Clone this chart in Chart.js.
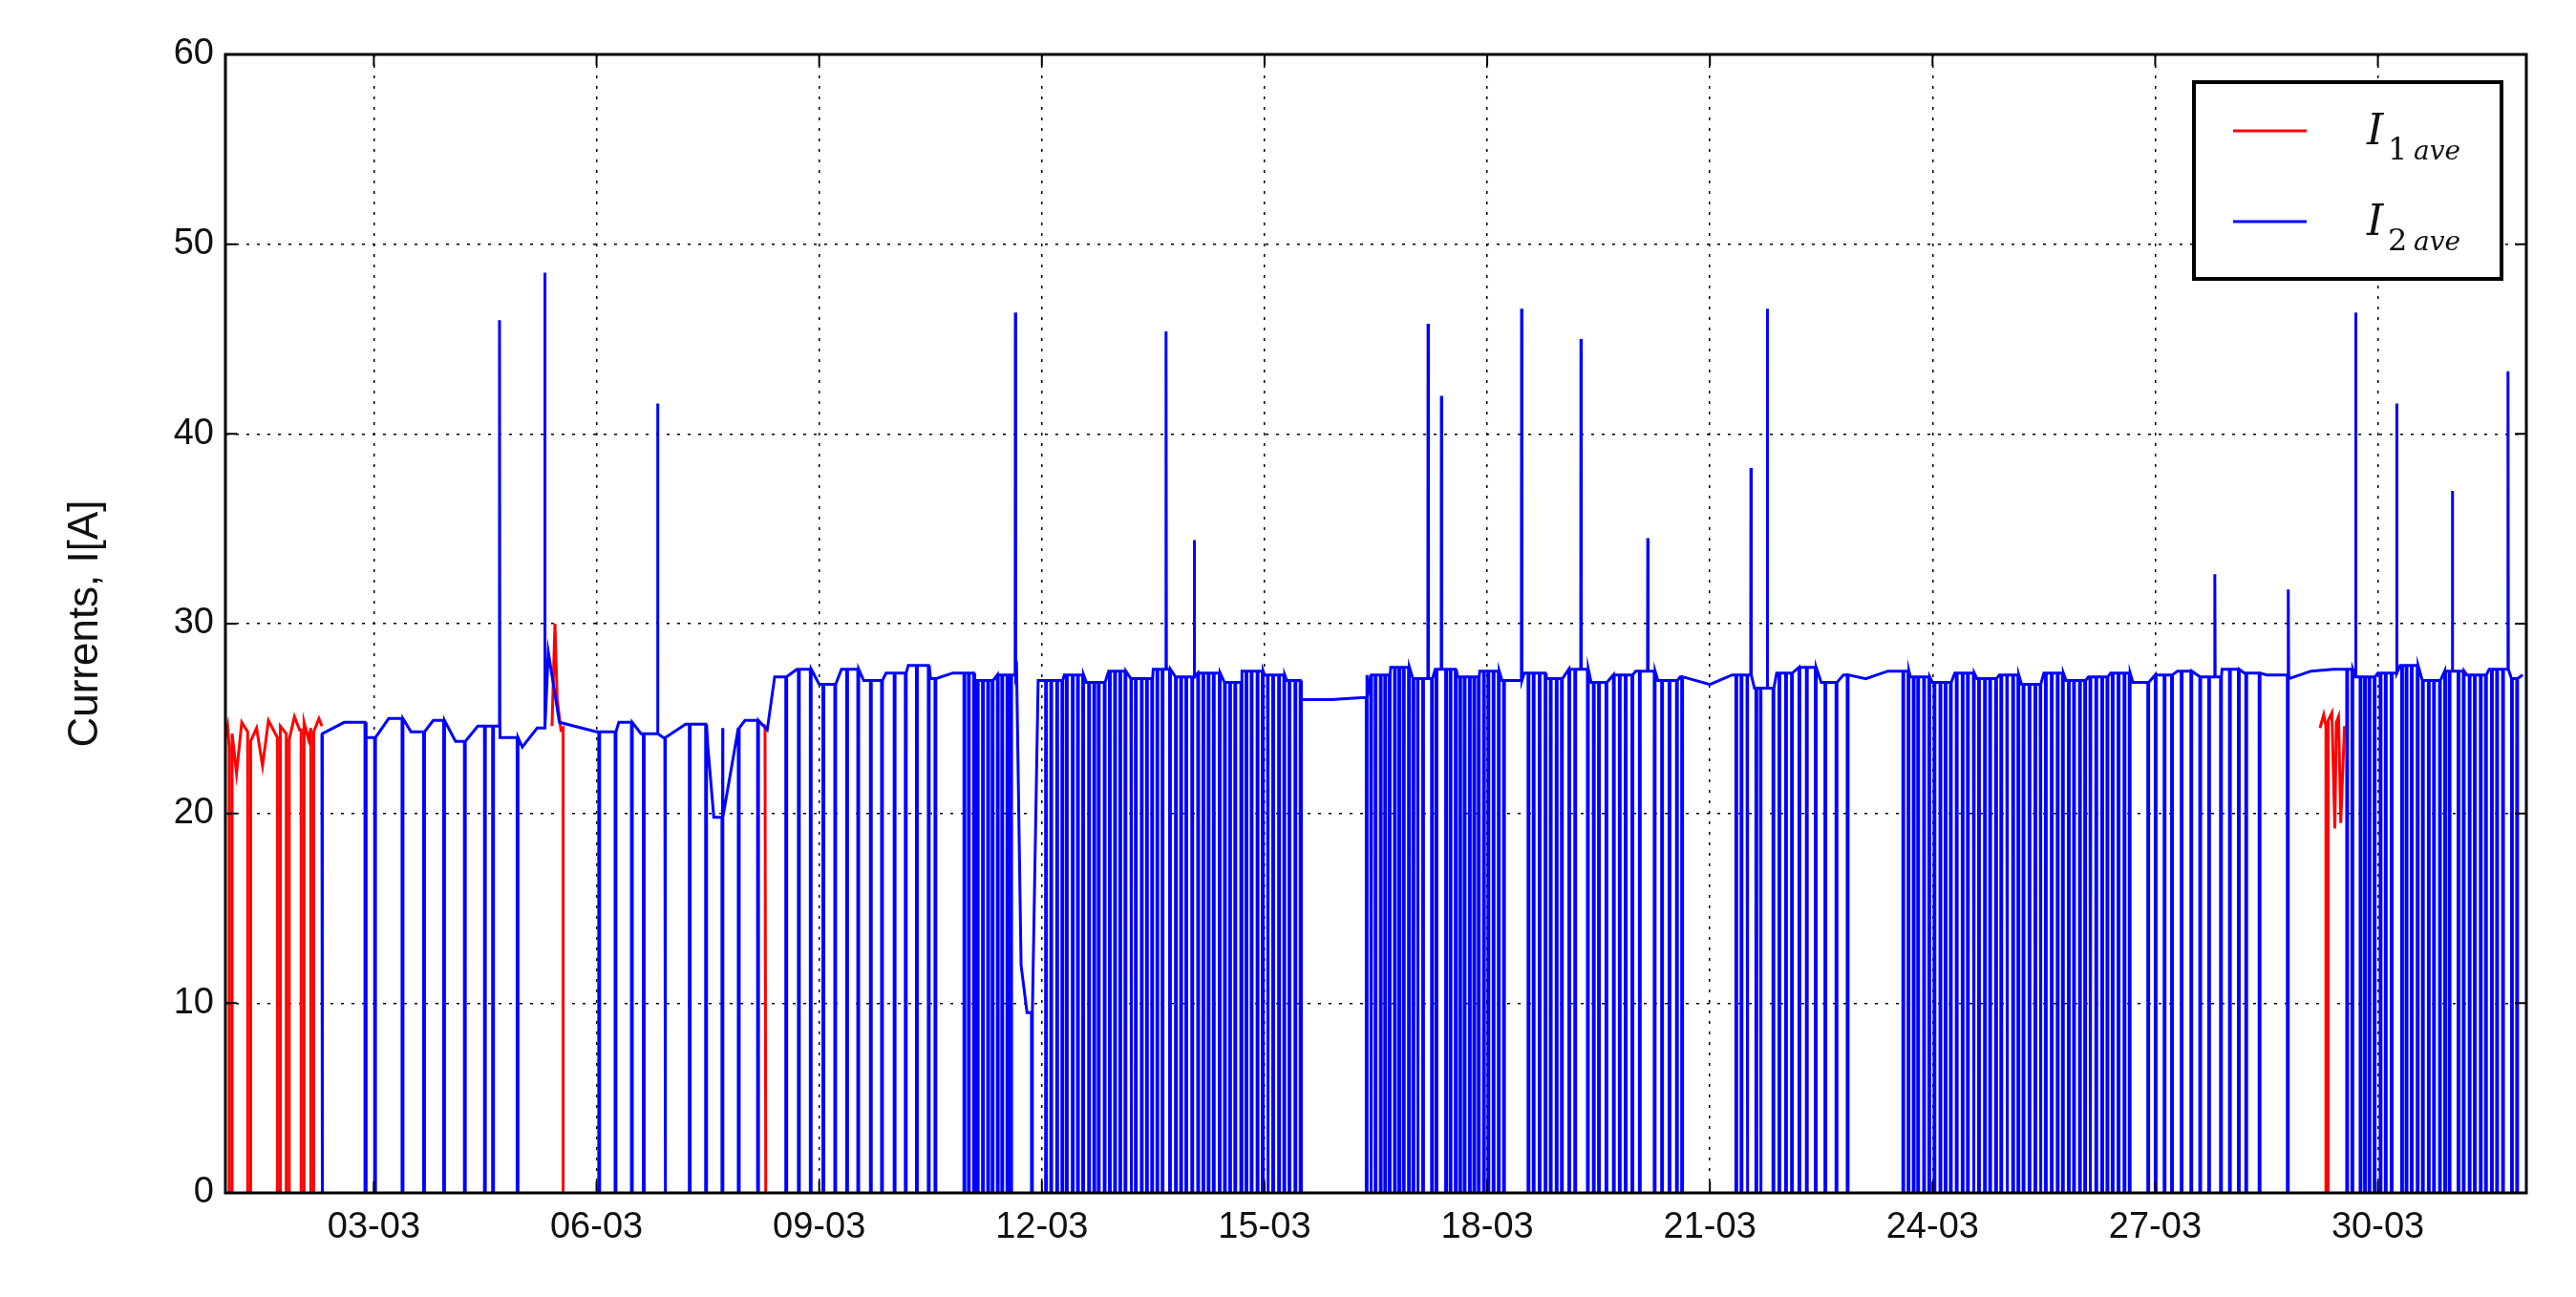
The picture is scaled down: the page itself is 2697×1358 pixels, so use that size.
<!DOCTYPE html>
<html><head><meta charset="utf-8">
<script src="https://cdn.jsdelivr.net/npm/chart.js@4/dist/chart.umd.min.js"></script>
<style>html,body{margin:0;padding:0;background:#fff}#wrap{width:2697px;height:1358px}</style>
</head><body><div id="wrap"><canvas id="c" width="2697" height="1358"></canvas></div>
<script>
// ---- data (days of March, 1.0 = 01-03 00:00) ----
const xTickDays = [3,6,9,12,15,18,21,24,27,30];
const yTicks = [0,10,20,30,40,50,60];
const seriesNames = ['I1 ave','I2 ave'];

const blueLevelT = [2.3,2.6,2.9,3.2,3.5,3.8,4.1,4.4,4.7,5.0,5.2,5.35,5.5,5.7,6.0,6.3,6.6,6.9,7.2,7.5,7.58,7.7,8.0,8.3,8.4,8.7,9.0,9.3,9.6,9.9,10.2,10.5,10.8,11.1,11.4,11.66,11.72,11.8,11.95,12.3,12.6,12.9,13.2,13.5,13.8,14.1,14.4,14.7,15.0,15.3,15.5,15.9,16.3,16.38,16.7,17.0,17.3,17.6,17.9,18.2,18.5,18.8,19.1,19.4,19.7,20.0,20.3,20.6,21.0,21.3,21.6,21.9,22.2,22.5,22.8,23.1,23.4,23.7,24.0,24.3,24.6,24.9,25.2,25.5,25.8,26.1,26.4,26.7,27.0,27.3,27.6,27.9,28.2,28.5,28.8,29.1,29.4,29.7,30.0,30.3,30.6,30.9,31.2,31.5,31.8,31.95];
const blueLevelV = [24.2,24.8,24.0,25.0,24.3,24.9,23.8,24.6,24.0,23.5,24.5,28.5,24.8,24.6,24.3,24.8,24.2,24.0,24.7,23.5,19.8,24.5,24.9,24.4,27.2,27.6,26.8,27.6,27.0,27.4,27.8,27.1,27.4,27.0,27.3,27.5,12.0,9.5,27.0,27.3,26.9,27.5,27.1,27.6,27.2,27.4,26.9,27.5,27.3,27.0,26.0,26.0,26.1,27.3,27.7,27.1,27.6,27.2,27.5,27.0,27.4,27.1,27.6,26.9,27.3,27.5,27.0,27.2,26.8,27.3,26.6,27.4,27.7,26.9,27.3,27.1,27.5,27.2,26.9,27.4,27.1,27.3,26.8,27.4,27.0,27.2,27.4,26.9,27.3,27.5,27.2,27.6,27.4,27.3,27.1,27.5,27.6,27.2,27.4,27.8,27.0,27.5,27.3,27.6,27.1,27.3];

const blueSpikeT = [4.69,5.30,6.82,11.64,13.67,14.05,17.20,17.38,18.46,19.26,20.16,21.55,21.77,27.80,28.79,29.70,30.25,31.00,31.75];
const blueSpikeV = [46.0,48.5,41.6,46.4,45.4,34.4,45.8,42.0,46.6,45.0,34.5,38.2,46.6,32.6,31.8,46.4,41.6,37.0,43.3];

const blueDropT = [2.30,2.88,3.01,3.38,3.67,3.94,4.22,4.49,4.60,4.93,6.03,6.25,6.47,6.63,6.92,7.25,7.47,7.69,7.91,8.17,
8.55,8.72,8.88,9.05,9.21,9.37,9.52,9.69,9.84,10.01,10.16,10.31,10.47,10.56,
10.95,11.01,11.08,11.13,11.20,11.27,11.33,11.40,11.46,11.53,11.58,11.86,
12.05,12.12,12.20,12.27,12.33,12.41,12.48,12.55,12.63,12.70,12.76,12.84,12.91,12.98,13.05,13.12,13.20,13.26,13.34,13.41,13.48,13.55,13.62,13.72,13.80,13.87,13.94,14.02,14.10,14.17,14.24,14.31,14.39,14.46,14.53,14.60,14.68,14.75,14.82,14.90,14.97,15.04,15.11,15.19,15.26,15.33,15.41,15.48,
16.37,16.43,16.49,16.56,16.62,16.68,16.75,16.81,16.87,16.94,17.00,17.06,17.13,17.25,17.31,17.44,17.50,17.57,17.63,17.69,17.76,17.82,17.88,17.95,18.01,18.08,18.15,18.22,
18.55,18.62,18.70,18.78,18.85,18.93,19.00,19.10,19.18,19.35,19.43,19.50,19.60,19.70,19.78,19.86,19.95,20.05,20.25,20.35,20.45,20.55,20.62,
21.35,21.42,21.50,21.62,21.68,21.85,21.93,22.02,22.10,22.20,22.30,22.42,22.55,22.70,22.85,
23.60,23.67,23.74,23.80,23.88,23.95,24.02,24.10,24.17,24.24,24.32,24.40,24.47,24.55,24.62,24.70,24.77,24.85,24.92,25.00,25.08,25.15,25.22,25.30,25.38,25.45,25.52,25.60,25.68,25.75,25.83,25.90,25.98,26.05,26.12,26.20,26.28,26.35,26.42,26.50,26.58,26.65,
26.90,27.00,27.12,27.22,27.35,27.48,27.60,27.72,27.88,28.00,28.12,28.22,28.40,28.78,
29.58,29.65,29.76,29.82,29.88,29.95,30.03,30.10,30.18,30.32,30.38,30.45,30.53,30.60,30.68,30.75,30.83,30.90,30.96,31.08,31.15,31.23,31.30,31.38,31.45,31.53,31.60,31.68,31.80,31.87];

const redT = [1.00,1.03,1.05,1.05,1.09,1.09,1.15,1.22,1.30,1.30,1.34,1.34,1.42,1.50,1.58,1.70,1.70,1.74,1.74,1.82,1.82,1.86,1.86,1.93,2.00,2.02,2.02,2.06,2.06,2.12,2.15,2.15,2.19,2.19,2.26,2.30,null,5.40,5.44,5.47,5.52,5.55,5.55,5.57,null,8.22,8.27,8.28,8.29,null,29.22,29.27,29.30,29.30,29.33,29.33,29.38,29.42,29.44,29.47,29.50,29.55];
const redV = [24.0,24.6,23.5,0,0,24.2,22.1,24.8,24.3,0,0,23.8,24.5,22.5,24.9,24.0,0,0,24.6,24.2,0,0,23.9,25.1,24.4,24.4,0,0,24.8,23.9,24.5,0,0,24.3,25.0,24.6,null,24.6,30.0,26.0,24.4,24.5,0,0,null,24.7,24.6,0,0,null,24.5,25.2,24.6,0,0,24.9,25.3,19.2,24.8,25.1,19.5,24.6];

// ---- build line points from the arrays ----
function levelAt(t){let v=blueLevelV[0];for(let i=0;i<blueLevelT.length;i++){if(blueLevelT[i]<=t)v=blueLevelV[i];else break;}return v;}
const bluePts=[];
blueLevelT.forEach((t,i)=>bluePts.push({x:t,y:blueLevelV[i],k:0}));
blueDropT.forEach(t=>{const L=levelAt(t);const w=0.012;
  bluePts.push({x:t,y:L,k:1},{x:t+0.0001,y:0,k:2},{x:t+w,y:0,k:3},{x:t+w+0.0001,y:L,k:4});});
blueSpikeT.forEach((t,i)=>{const L=levelAt(t);
  bluePts.push({x:t,y:L,k:1},{x:t+0.003,y:blueSpikeV[i],k:2},{x:t+0.008,y:L,k:3});});
bluePts.sort((a,b)=>a.x-b.x||a.k-b.k);
const redPts=redT.map((t,i)=>t===null?{x:NaN,y:null}:{x:t,y:redV[i]});

// ---- custom legend, frame, inward ticks, y title ----
const decoPlugin={id:'deco',afterDraw(chart){const c=chart.ctx;c.save();
  const xa=chart.scales.x,ya=chart.scales.y,a=chart.chartArea;
  c.strokeStyle='#000';c.lineWidth=3;c.setLineDash([]);c.strokeRect(a.left,a.top,a.right-a.left,a.bottom-a.top);
  c.lineWidth=2;
  xTickDays.forEach(d=>{const p=xa.getPixelForValue(d);c.beginPath();c.moveTo(p,a.bottom);c.lineTo(p,a.bottom-12);c.moveTo(p,a.top);c.lineTo(p,a.top+12);c.stroke();});
  yTicks.forEach(v=>{const p=ya.getPixelForValue(v);c.beginPath();c.moveTo(a.left,p);c.lineTo(a.left+12,p);c.moveTo(a.right,p);c.lineTo(a.right-12,p);c.stroke();});
  c.fillStyle='#fff';c.fillRect(2297,86,322,206);
  c.strokeStyle='#000';c.lineWidth=4;c.strokeRect(2297,86,322,206);
  const rows=[{y:137,col:'#ff0000',sub:'1'},{y:232,col:'#0000ff',sub:'2'}];
  rows.forEach(r=>{c.strokeStyle=r.col;c.lineWidth=3;c.beginPath();c.moveTo(2338,r.y);c.lineTo(2415,r.y);c.stroke();
    c.fillStyle='#111';c.textBaseline='alphabetic';
    c.font='italic 44px "DejaVu Serif"';c.fillText('I',2478,r.y+14);
    c.font='32px "DejaVu Serif"';c.fillText(r.sub,2500,r.y+30);
    c.font='italic 28px "DejaVu Serif"';c.fillText('ave',2527,r.y+30);});
  c.translate(90,(a.top+a.bottom)/2);c.rotate(-Math.PI/2);c.textAlign='center';c.textBaseline='middle';
  c.fillStyle='#111';c.font='44px "Liberation Sans Narrow", "Liberation Sans"';c.fillText('Currents, I[A]',0,0);
  c.restore();}};

const tickFont={family:'"Liberation Sans Narrow", "Liberation Sans"',size:38};
new Chart(document.getElementById('c'),{type:'line',
 data:{datasets:[
  {label:seriesNames[0],data:redPts,borderColor:'#ff0000',borderWidth:3,pointRadius:0,tension:0,spanGaps:false,order:1},
  {label:seriesNames[1],data:bluePts,borderColor:'#0000ff',borderWidth:3,pointRadius:0,tension:0,order:0}]},
 options:{responsive:false,animation:false,parsing:false,normalized:true,
  layout:{padding:{top:57,right:52,left:0,bottom:0}},
  plugins:{legend:{display:false},tooltip:{enabled:false}},
  scales:{
   x:{type:'linear',min:1,max:32,
     afterBuildTicks(s){s.ticks=xTickDays.map(v=>({value:v}));},
     afterFit(s){s.height=109;},
     ticks:{font:tickFont,color:'#111',maxRotation:0,autoSkip:false,padding:14,callback:v=>String(v).padStart(2,'0')+'-03'},
     grid:{color:'#000',lineWidth:1.5,drawTicks:false},
     border:{display:false,dash:[3,8]}},
   y:{min:0,max:60,
     afterBuildTicks(s){s.ticks=yTicks.map(v=>({value:v}));},
     afterFit(s){s.width=236;},
     ticks:{font:tickFont,color:'#111',padding:12},
     grid:{color:'#000',lineWidth:1.5,drawTicks:false},
     border:{display:false,dash:[3,8]}}
  }},
 plugins:[decoPlugin]
});
</script></body></html>
